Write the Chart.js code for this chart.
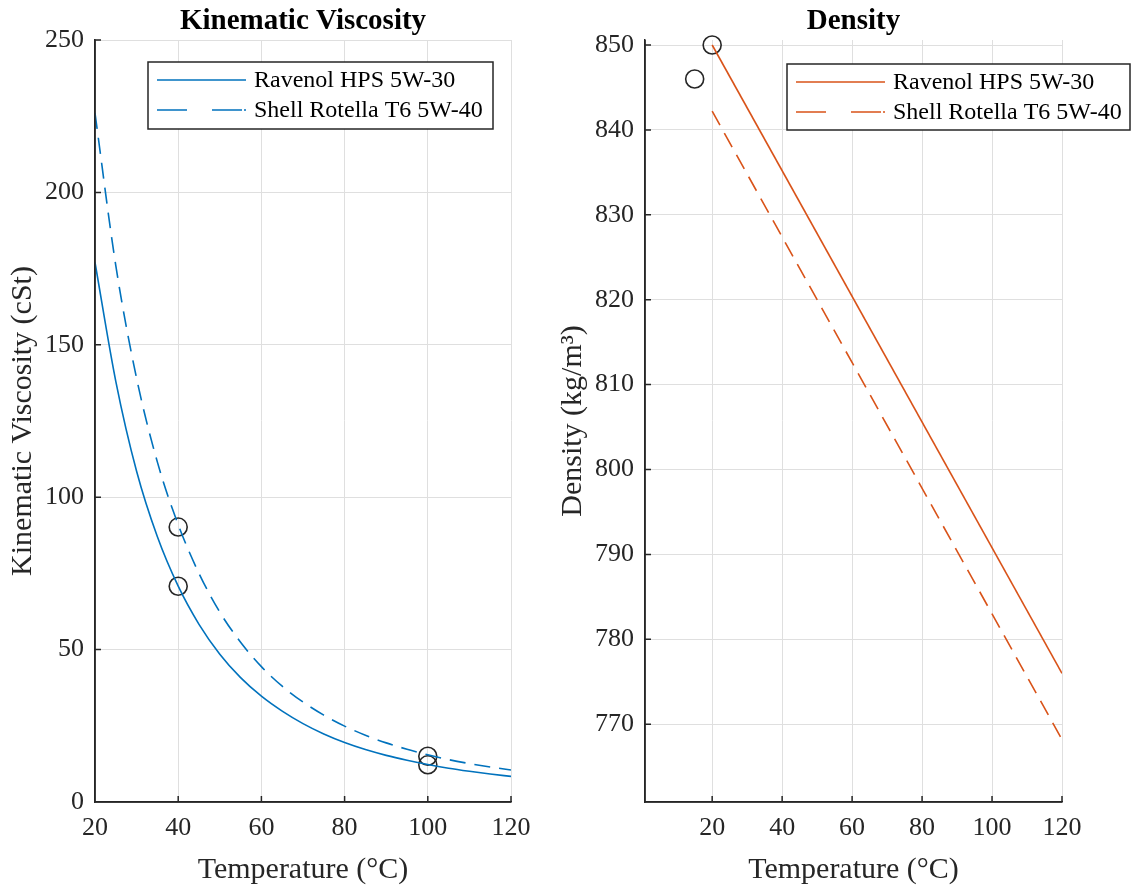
<!DOCTYPE html>
<html><head><meta charset="utf-8">
<script src="https://cdn.jsdelivr.net/npm/chart.js@4.4.1/dist/chart.umd.min.js"></script>
<style>
html,body{margin:0;padding:0;background:#fff;width:1132px;height:893px;overflow:hidden}
#c1{position:absolute;left:0;top:0}
#c2{position:absolute;left:550px;top:0}
</style></head><body>
<canvas id="c1" width="550" height="893"></canvas>
<canvas id="c2" width="582" height="893"></canvas>
<script>
// ---- data ----
const seriesNames = ['Ravenol HPS 5W-30', 'Shell Rotella T6 5W-40'];
const viscTemps   = [20, 25, 30, 35, 40, 45, 50, 55, 60, 65, 70, 75, 80, 85, 90, 95, 100, 105, 110, 115, 120];
const viscRavenol = [177, 138, 108.5, 87, 70.8, 58.3, 48.5, 40.8, 34.7, 29.8, 25.7, 22.3, 19.5, 17.2, 15.3, 13.7, 12.3, 11.1, 10.1, 9.2, 8.4];
const viscShell   = [226, 176, 139, 111.5, 91, 75, 62.3, 52.4, 44.4, 38, 32.8, 28.5, 24.9, 21.9, 19.4, 17.3, 15.5, 13.9, 12.6, 11.5, 10.5];
const viscPointTemps  = [40, 40, 100, 100];
const viscPointValues = [70.8, 90.2, 12.2, 15.0];
const densTemps   = [20, 120];
const densRavenol = [850, 776];
const densShell   = [842.2, 768.2];
const densPointTemps  = [20, 15];
const densPointValues = [850, 846];
const viscXTicks = [20, 40, 60, 80, 100, 120];
const viscYTicks = [0, 50, 100, 150, 200, 250];
const densXTicks = [20, 40, 60, 80, 100, 120];
const densYTicks = [770, 780, 790, 800, 810, 820, 830, 840, 850];

// ---- styling ----
const FONT = '"Liberation Serif", "Times New Roman", serif';
const AX = '#262626';
const GRID = '#dfdfdf';
const BLUE = '#0072BD';
const ORANGE = '#D95319';

function zip(xs, ys) { return xs.map((x, i) => ({x: x, y: ys[i]})); }

const inTicks = {
  id: 'inTicks',
  afterDatasetsDraw(chart) {
    const {ctx, chartArea: a, scales: {x, y}} = chart;
    ctx.save();
    ctx.strokeStyle = AX; ctx.lineWidth = 1.5; ctx.setLineDash([]);
    ctx.beginPath();
    x.ticks.forEach(t => { const p = x.getPixelForValue(t.value); ctx.moveTo(p, a.bottom); ctx.lineTo(p, a.bottom - 6); });
    y.ticks.forEach(t => { const p = y.getPixelForValue(t.value); ctx.moveTo(a.left, p); ctx.lineTo(a.left + 6, p); });
    ctx.moveTo(a.left, a.top); ctx.lineTo(a.left, a.bottom); ctx.lineTo(a.right, a.bottom);
    ctx.stroke();
    ctx.restore();
  }
};

const boxLegend = {
  id: 'boxLegend',
  afterDraw(chart, args, o) {
    const ctx = chart.ctx;
    ctx.save();
    ctx.fillStyle = '#fff';
    ctx.fillRect(o.x, o.y, o.w, o.h);
    ctx.strokeStyle = AX; ctx.lineWidth = 1.5; ctx.setLineDash([]);
    ctx.strokeRect(o.x, o.y, o.w, o.h);
    const items = chart.data.datasets.filter(d => d.label);
    items.forEach((d, i) => {
      const yy = o.y + 18 + i * 30;
      ctx.strokeStyle = d.borderColor; ctx.lineWidth = d.borderWidth;
      ctx.setLineDash(d.legendDash || []);
      ctx.beginPath(); ctx.moveTo(o.x + 9, yy); ctx.lineTo(o.x + 98, yy); ctx.stroke();
      ctx.setLineDash([]);
      ctx.fillStyle = '#000';
      ctx.font = '24px ' + FONT;
      ctx.textBaseline = 'middle'; ctx.textAlign = 'left';
      ctx.fillText(d.label, o.x + 106, yy + 1);
    });
    ctx.restore();
  }
};

function lineDs(label, xs, ys, color, dashed) {
  return {
    label: label, data: zip(xs, ys), showLine: true, borderColor: color, backgroundColor: color,
    borderWidth: 1.6, pointRadius: 0, fill: false, cubicInterpolationMode: 'monotone',
    borderDash: dashed ? [16, 9] : [], legendDash: dashed ? [30, 25, 30, 2, 3] : []
  };
}
function markerDs(xs, ys) {
  return {
    label: '', data: zip(xs, ys), showLine: false, pointRadius: 9, pointHoverRadius: 9,
    pointBorderColor: AX, pointBackgroundColor: 'rgba(0,0,0,0)', pointBorderWidth: 1.6, clip: false
  };
}

function axis(min, max, ticks, titleText, isX, fitSize) {
  return {
    type: 'linear', min: min, max: max,
    afterBuildTicks: s => { s.ticks = ticks.map(v => ({value: v})); },
    afterFit: s => { if (isX) s.height = fitSize; else s.width = fitSize; },
    grid: {color: GRID, lineWidth: 1, drawTicks: false},
    border: {display: true, color: AX, width: 1.5},
    ticks: {padding: isX ? 11 : 11, color: AX, font: {family: FONT, size: 26}, maxRotation: 0, autoSkip: false},
    title: {display: true, text: titleText, color: AX, font: {family: FONT, size: 30},
            padding: isX ? {top: 0, bottom: 5} : {top: 5, bottom: 0}}
  };
}

function makeChart(id, cfg) {
  return new Chart(document.getElementById(id), {
    type: 'scatter',
    data: {datasets: cfg.datasets},
    options: {
      responsive: false, animation: false, events: [],
      layout: {padding: {left: 0, top: 0, right: cfg.padRight, bottom: 0}},
      plugins: {
        legend: {display: false}, tooltip: {enabled: false},
        title: {display: true, text: cfg.title, color: '#000', fullSize: false,
                font: {family: FONT, size: 29, weight: 'bold'}, padding: {top: 4, bottom: 1.2}},
        boxLegend: cfg.legend
      },
      scales: {
        x: axis(cfg.xmin, cfg.xmax, cfg.xticks, 'Temperature (°C)', true, 91),
        y: axis(cfg.ymin, cfg.ymax, cfg.yticks, cfg.ytitle, false, 95)
      }
    },
    plugins: [inTicks, boxLegend]
  });
}

makeChart('c1', {
  title: 'Kinematic Viscosity', ytitle: 'Kinematic Viscosity (cSt)', padRight: 39,
  xmin: 20, xmax: 120, ymin: 0, ymax: 250, xticks: viscXTicks, yticks: viscYTicks,
  legend: {x: 148, y: 62, w: 345, h: 67},
  datasets: [
    lineDs(seriesNames[0], viscTemps, viscRavenol, BLUE, false),
    lineDs(seriesNames[1], viscTemps, viscShell, BLUE, true),
    markerDs(viscPointTemps, viscPointValues)
  ]
});

makeChart('c2', {
  title: 'Density', ytitle: 'Density (kg/m³)', padRight: 70,
  xmin: 0.8, xmax: 120, ymin: 760.84, ymax: 850.59, xticks: densXTicks, yticks: densYTicks,
  legend: {x: 237, y: 64, w: 343, h: 66},
  datasets: [
    lineDs(seriesNames[0], densTemps, densRavenol, ORANGE, false),
    lineDs(seriesNames[1], densTemps, densShell, ORANGE, true),
    markerDs(densPointTemps, densPointValues)
  ]
});
</script>
</body></html>
